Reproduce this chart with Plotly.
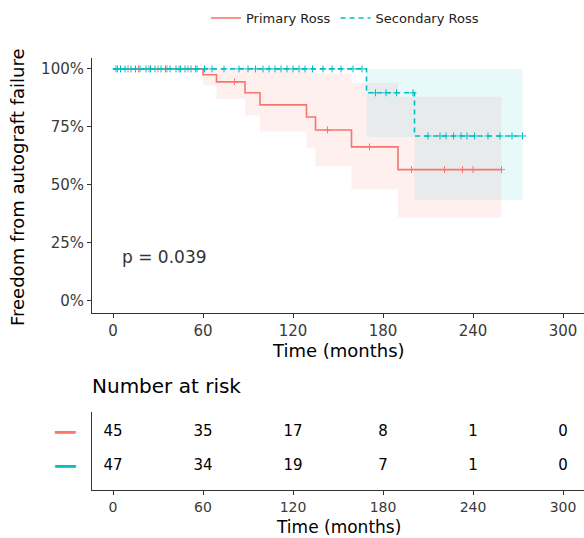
import plotly.graph_objects as go

# ---------------- data ----------------
prim_t = [0, 60, 69, 88, 98, 129, 135, 159, 190, 259]
prim_s = [1.0, 0.975, 0.944, 0.897, 0.845, 0.793, 0.737, 0.664, 0.566, 0.566]
prim_lo = [1.0, 0.93, 0.87, 0.80, 0.73, 0.66, 0.58, 0.48, 0.36, 0.36]
prim_hi = [1.0, 1.0, 1.0, 1.0, 1.0, 1.0, 0.98, 0.94, 0.88, 0.88]
prim_cens = [3, 10, 17, 24, 30, 36, 44, 50, 55, 81, 143, 171, 199, 221, 233, 240, 259]

sec_t = [0, 169, 201, 273]
sec_s = [1.0, 0.897, 0.711, 0.711]
sec_lo = [1.0, 0.707, 0.435, 0.435]
sec_hi = [1.0, 1.0, 1.0, 1.0]
sec_cens = [2, 5, 8, 12, 15, 18, 22, 25, 28, 32, 35, 38, 42, 45, 48, 52, 56, 61, 66,
            74, 84, 90, 95, 100, 104, 108, 112, 116, 120, 124, 128, 133, 140, 146,
            152, 160, 166, 175, 182, 189, 200, 210, 218, 222, 227, 232, 236, 241,
            250, 258, 266, 273]

risk_times = [0, 60, 120, 180, 240, 300]
risk_primary = [45, 35, 17, 8, 1, 0]
risk_secondary = [47, 34, 19, 7, 1, 0]

groups = ["Primary Ross", "Secondary Ross"]
colors = ["#F8766D", "#00BFC4"]
fills = ["rgba(248,118,109,0.11)", "rgba(0,191,196,0.09)"]
p_text = "p = 0.039"

x_ticks = [0, 60, 120, 180, 240, 300]
y_ticks = [0, 0.25, 0.5, 0.75, 1.0]
y_ticklabels = ["0%", "25%", "50%", "75%", "100%"]


def step_at(ts, ss, t):
    v = ss[0]
    for ti, si in zip(ts, ss):
        if ti <= t:
            v = si
    return v


W, H = 584, 538
FONT = "DejaVu Sans, Arial, sans-serif"
fig = go.Figure()

series = [
    (prim_t, prim_s, prim_lo, prim_hi, prim_cens, "solid"),
    (sec_t, sec_s, sec_lo, sec_hi, sec_cens, "5px,4px"),
]

# confidence bands
for i, (t, s, lo, hi, cens, dash) in enumerate(series):
    fig.add_trace(go.Scatter(x=t, y=hi, mode="lines", line=dict(width=0, shape="hv"),
                             showlegend=False, hoverinfo="skip", xaxis="x", yaxis="y"))
    fig.add_trace(go.Scatter(x=t, y=lo, mode="lines", line=dict(width=0, shape="hv"),
                             fill="tonexty", fillcolor=fills[i], showlegend=False,
                             hoverinfo="skip", xaxis="x", yaxis="y"))

# curves
for i, (t, s, lo, hi, cens, dash) in enumerate(series):
    fig.add_trace(go.Scatter(x=t, y=s, mode="lines", name=groups[i],
                             line=dict(color=colors[i], width=1.6, shape="hv", dash=dash),
                             xaxis="x", yaxis="y", showlegend=True))
    cy = [step_at(t, s, c) for c in cens]
    fig.add_trace(go.Scatter(x=cens, y=cy, mode="markers", showlegend=False,
                             marker=dict(symbol="cross-thin", size=5,
                                         line=dict(color=colors[i], width=1)),
                             xaxis="x", yaxis="y"))

# risk table numbers
for i, vals in enumerate([risk_primary, risk_secondary]):
    fig.add_trace(go.Scatter(x=risk_times, y=[2 - i] * len(risk_times), mode="text",
                             text=[str(v) for v in vals], textposition="middle center",
                             textfont=dict(size=15, color="#000000", family=FONT),
                             showlegend=False, xaxis="x2", yaxis="y2", cliponaxis=False))

xr = [-14, 314]
axis_common = dict(showgrid=False, zeroline=False, showline=True, linecolor="#333333",
                   linewidth=1, ticks="outside", ticklen=4, tickcolor="#333333")

key_text = ['<span style="color:%s">━━</span>' % c for c in colors]

fig.update_layout(
    width=W, height=H,
    margin=dict(l=0, r=0, t=0, b=0),
    paper_bgcolor="white", plot_bgcolor="white",
    font=dict(family=FONT),
    xaxis=dict(domain=[92 / W, 1], range=xr, tickvals=x_ticks, anchor="y",
               tickfont=dict(size=15, color="#3a3a3a", family=FONT), **axis_common),
    yaxis=dict(domain=[(H - 313) / H, (H - 58) / H], range=[-0.052, 1.047],
               tickvals=y_ticks, ticktext=y_ticklabels, anchor="x",
               tickfont=dict(size=15, color="#3a3a3a", family=FONT), **axis_common),
    xaxis2=dict(domain=[92 / W, 1], range=xr, tickvals=x_ticks, anchor="y2",
                tickfont=dict(size=14, color="#3a3a3a", family=FONT), **axis_common),
    yaxis2=dict(domain=[(H - 490) / H, (H - 412) / H], range=[0.3, 2.6],
                tickvals=[2, 1], ticktext=key_text, ticks="", ticklabelstandoff=12,
                tickfont=dict(size=17, family="DejaVu Sans"),
                showgrid=False, zeroline=False,
                showline=True, linecolor="#333333", linewidth=1, anchor="x2"),
    legend=dict(orientation="h", x=345 / W, xanchor="center", y=(H - 18) / H,
                yanchor="middle", font=dict(size=13, color="#222222", family=FONT),
                bgcolor="rgba(0,0,0,0)", traceorder="normal", itemwidth=30),
    showlegend=True,
)

fig.add_annotation(text=p_text, x=4.5, y=0.19, xref="x", yref="y", xanchor="left",
                   yanchor="middle", showarrow=False,
                   font=dict(size=17, color="#333333", family=FONT))
fig.add_annotation(text="Freedom from autograft failure", x=18 / W, y=(H - 187) / H,
                   xref="paper", yref="paper", textangle=-90, showarrow=False,
                   xanchor="center", yanchor="middle",
                   font=dict(size=18, color="#000000", family=FONT))
fig.add_annotation(text="Time (months)", x=338 / W, y=(H - 351) / H, xref="paper",
                   yref="paper", showarrow=False, xanchor="center", yanchor="middle",
                   font=dict(size=18, color="#000000", family=FONT))
fig.add_annotation(text="Number at risk", x=90 / W, y=(H - 386) / H, xref="paper",
                   yref="paper", showarrow=False, xanchor="left", yanchor="middle",
                   font=dict(size=20, color="#000000", family=FONT))
fig.add_annotation(text="Time (months)", x=338 / W, y=(H - 527) / H, xref="paper",
                   yref="paper", showarrow=False, xanchor="center", yanchor="middle",
                   font=dict(size=17, color="#000000", family=FONT))

fig.write_html("out.html")
